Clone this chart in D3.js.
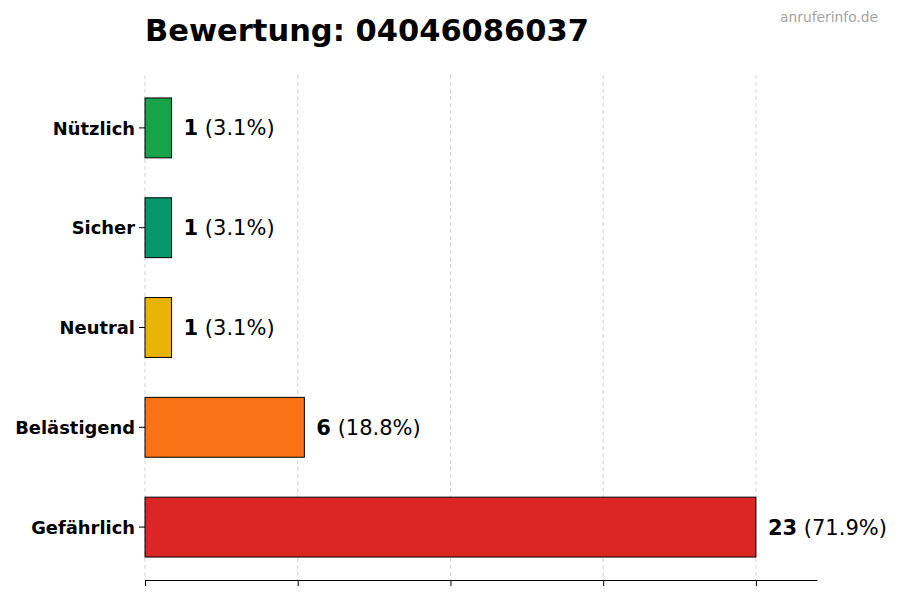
<!DOCTYPE html>
<html>
<head>
<meta charset="utf-8">
<script src="https://cdn.jsdelivr.net/npm/d3@7"></script>
<style>
body { margin: 0; background: #fff; }
text { font-family: "DejaVu Sans", sans-serif; }
</style>
</head>
<body>
<svg width="900" height="600"></svg>
<script>
var categories = ["Nützlich", "Sicher", "Neutral", "Belästigend", "Gefährlich"];
var counts = [1, 1, 1, 6, 23];
var percents = ["3.1%", "3.1%", "3.1%", "18.8%", "71.9%"];
var colors = ["#16a34a", "#059669", "#eab308", "#f97316", "#dc2626"];
var xTicks = [0, 5.75, 11.5, 17.25, 23];

var svg = d3.select("svg");
var plotLeft = 145, plotRight = 817, plotTop = 75, plotBottom = 580;

var x = d3.scaleLinear().domain([0, 25.3]).range([plotLeft, plotRight]);
// index 0 at top
var y = d3.scaleLinear().domain([-0.53, 4.53]).range([plotTop, plotBottom]);
var barH = (y(1) - y(0)) * 0.6;

// grid
svg.append("g").selectAll("line")
  .data(xTicks)
  .enter().append("line")
  .attr("x1", d => x(d)).attr("x2", d => x(d))
  .attr("y1", plotTop).attr("y2", plotBottom)
  .attr("stroke", "#cfcfcf").attr("stroke-width", 0.9)
  .attr("stroke-dasharray", "4,3");

// bars
svg.append("g").selectAll("rect")
  .data(counts)
  .enter().append("rect")
  .attr("x", x(0))
  .attr("y", (d, i) => y(i) - barH / 2)
  .attr("width", d => x(d) - x(0))
  .attr("height", barH)
  .attr("fill", (d, i) => colors[i])
  .attr("stroke", "#000").attr("stroke-width", 1);

// value labels
var lab = svg.append("g").selectAll("text")
  .data(counts)
  .enter().append("text")
  .attr("x", d => x(d) + 12)
  .attr("y", (d, i) => y(i))
  .attr("dy", "0.36em")
  .attr("font-size", 21);
lab.append("tspan").attr("font-weight", "bold").text(d => d);
lab.append("tspan").text((d, i) => " (" + percents[i] + ")");

// x axis
svg.append("g")
  .attr("transform", "translate(0," + plotBottom + ")")
  .call(d3.axisBottom(x).tickValues(xTicks).tickFormat("").tickSize(6).tickSizeOuter(0))
  .call(g => g.select(".domain").attr("stroke", "#000"))
  .call(g => g.selectAll(".tick line").attr("stroke", "#000"));

// y axis labels
var yAxis = svg.append("g").attr("transform", "translate(" + plotLeft + ",0)");
yAxis.selectAll("line")
  .data(categories)
  .enter().append("line")
  .attr("x1", -6).attr("x2", 0)
  .attr("y1", (d, i) => y(i)).attr("y2", (d, i) => y(i))
  .attr("stroke", "#000");
yAxis.selectAll("text")
  .data(categories)
  .enter().append("text")
  .attr("x", -10)
  .attr("y", (d, i) => y(i))
  .attr("dy", "0.38em")
  .attr("text-anchor", "end")
  .attr("font-size", 17.9)
  .attr("font-weight", "bold")
  .text(d => d);

// title
svg.append("text")
  .attr("x", plotLeft).attr("y", 41)
  .attr("font-size", 30.5).attr("font-weight", "bold")
  .text("Bewertung: 04046086037");

svg.append("text")
  .attr("x", 878).attr("y", 22)
  .attr("text-anchor", "end")
  .attr("font-size", 13.8).attr("fill", "#a3a3a3")
  .text("anruferinfo.de");
</script>
</body>
</html>
